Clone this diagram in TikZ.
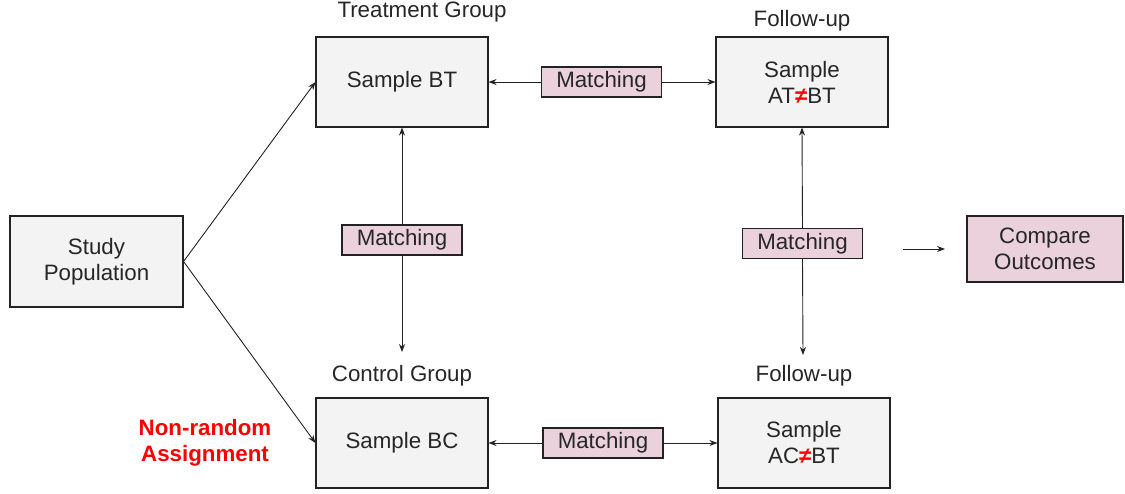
\documentclass[tikz,border=0pt]{standalone}
\usepackage{fontspec}
\setmainfont{Liberation Sans}
\usetikzlibrary{arrows.meta}
\definecolor{boxgray}{HTML}{F3F3F3}
\definecolor{boxpink}{HTML}{EAD1DC}
\definecolor{linec}{HTML}{222222}
\begin{document}
\begin{tikzpicture}[x=1pt,y=-1pt,
  base/.style={draw=linec, line width=1.1pt, align=center, inner sep=0pt,
    font=\fontsize{22.3}{26}\selectfont, text=black!85},
  graybox/.style={base, fill=boxgray, minimum width=172pt, minimum height=90pt},
  matchbox/.style={base, fill=boxpink, minimum width=120pt, minimum height=30pt},
  pinkbox/.style={base, fill=boxpink, minimum width=156pt, minimum height=66pt},
  lbl/.style={font=\fontsize{22.3}{26}\selectfont, text=black!85, inner sep=0pt},
  conn/.style={draw=linec, line width=0.9pt, -{Stealth[length=8pt,width=6pt]}}]
\useasboundingbox (0,0) rectangle (1125,493);
\node[graybox, minimum width=173pt, minimum height=91pt] (pop) at (96.5,261.5) {Study\\Population};
\node[graybox] (bt) at (402,82) {Sample BT};
\node[graybox] (at) at (802,82) {Sample\\AT{\color{red}\bfseries ≠}BT};
\node[graybox] (bc) at (402,443) {Sample BC};
\node[graybox] (ac) at (804,443) {Sample\\AC{\color{red}\bfseries ≠}BT};
\node[pinkbox] (cmp) at (1045,249) {Compare\\Outcomes};
\node[matchbox] (m1) at (601.5,82) {Matching};
\node[matchbox] (m2) at (402,240) {Matching};
\node[matchbox] (m3) at (802.5,243.5) {Matching};
\node[matchbox] (m4) at (603,443) {Matching};
\node[lbl] (t1) at (422,12) {Treatment Group};
\node[lbl] (t2) at (802,21) {Follow-up};
\node[lbl] (t3) at (402,376) {Control Group};
\node[lbl] (t4) at (804,376) {Follow-up};
\node[lbl, align=center, text=red, font=\fontsize{22.3}{26}\selectfont\bfseries] (nr) at (205,443) {Non-random\\Assignment};
\coordinate (d2) at (402,352);
\coordinate (d3) at (803,355);
\coordinate (f1) at (903,249);
\coordinate (f2) at (945,249);
\draw[conn] (pop.east) -- (bt.west);
\draw[conn] (pop.east) -- (bc.west);
\draw[conn] (m1.west) -- (bt.east);
\draw[conn] (m1.east) -- (at.west);
\draw[conn] (m2.north) -- (bt.south);
\draw[conn] (m2.south) -- (d2);
\draw[conn] (m3.north) -- (at.south);
\draw[conn] (m3.south) -- (d3);
\draw[conn] (m4.west) -- (bc.east);
\draw[conn] (m4.east) -- (ac.west);
\draw[conn] (f1) -- (f2);
\end{tikzpicture}
\end{document}
